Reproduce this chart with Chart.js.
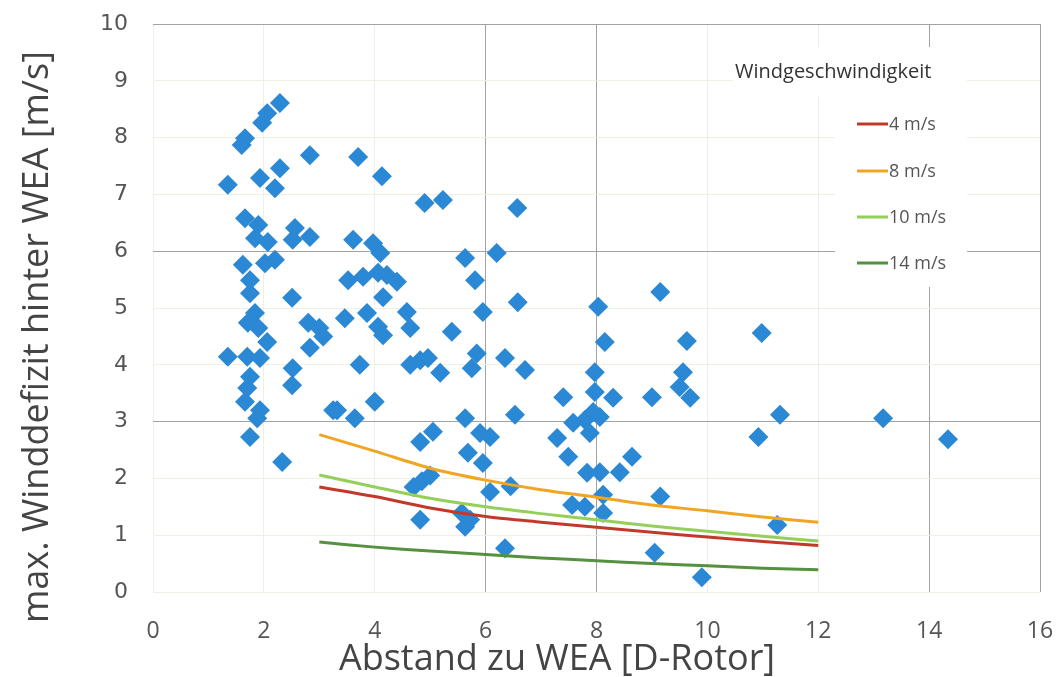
<!DOCTYPE html>
<html>
<head>
<meta charset="utf-8">
<script src="https://cdn.jsdelivr.net/npm/chart.js@4.4.1/dist/chart.umd.min.js"></script>
<style>
  body { margin: 0; background: #fff; }
  #wrap { width: 1057px; height: 677px; }
</style>
</head>
<body>
<div id="wrap"><canvas id="chart" width="1057" height="677"></canvas></div>
<script>
// Messpunkte: Abstand [D-Rotor] / max. Winddefizit [m/s]
const distX = [
  1.35, 1.35, 1.60, 1.66, 1.97, 2.06, 2.29, 2.83, 2.29, 1.93, 2.20, 1.66, 1.90, 1.84, 2.07, 2.56, 2.52, 2.83,
  1.62, 2.02, 2.20, 1.75, 1.75, 2.51, 1.84, 1.71, 1.90, 2.06, 2.80, 3.00, 3.07, 2.83, 1.70, 1.93, 2.52, 2.51,
  1.75, 1.70, 1.66, 1.93, 1.88, 1.75, 2.33, 3.25, 3.70, 4.13, 4.90, 5.23, 6.57, 3.61, 3.97, 4.10, 5.63, 6.20,
  3.52, 3.79, 4.06, 4.22, 4.40, 4.15, 5.81, 5.95, 6.58, 3.46, 3.86, 4.06, 4.15, 4.58, 4.64, 5.39, 3.73, 4.64,
  4.82, 4.96, 5.18, 5.84, 5.75, 6.35, 6.71, 4.00, 3.32, 3.64, 5.63, 6.53, 5.05, 4.82, 5.90, 6.08, 5.68, 5.95,
  4.70, 4.85, 5.00, 6.08, 6.45, 4.82, 5.57, 5.63, 5.72, 6.35, 7.40, 7.29, 7.49, 7.58, 7.79, 7.94, 8.06, 7.88,
  7.97, 7.97, 8.03, 8.15, 8.30, 7.83, 8.06, 8.42, 8.64, 7.56, 7.79, 8.12, 8.12, 9.15, 9.63, 10.98, 9.56, 9.00,
  9.50, 9.69, 9.15, 9.05, 9.90, 11.31, 10.92, 13.17, 14.34, 11.26
];
const deficitY = [
  7.17, 4.14, 7.87, 7.99, 8.26, 8.43, 8.61, 7.69, 7.46, 7.29, 7.11, 6.58, 6.46, 6.23, 6.16, 6.41, 6.20, 6.25,
  5.76, 5.79, 5.85, 5.49, 5.26, 5.18, 4.91, 4.74, 4.65, 4.40, 4.74, 4.65, 4.50, 4.30, 4.14, 4.12, 3.94, 3.64,
  3.79, 3.59, 3.35, 3.20, 3.06, 2.73, 2.29, 3.20, 7.66, 7.32, 6.85, 6.90, 6.76, 6.20, 6.14, 5.97, 5.88, 5.97,
  5.49, 5.55, 5.62, 5.58, 5.46, 5.19, 5.49, 4.93, 5.10, 4.82, 4.91, 4.67, 4.52, 4.93, 4.65, 4.58, 4.00, 4.00,
  4.08, 4.12, 3.86, 4.20, 3.94, 4.12, 3.91, 3.35, 3.20, 3.06, 3.06, 3.12, 2.82, 2.64, 2.80, 2.73, 2.45, 2.27,
  1.85, 1.95, 2.05, 1.76, 1.86, 1.27, 1.39, 1.15, 1.27, 0.77, 3.43, 2.71, 2.38, 2.98, 3.03, 3.17, 3.08, 2.80,
  3.52, 3.87, 5.02, 4.40, 3.42, 2.10, 2.11, 2.11, 2.38, 1.53, 1.50, 1.71, 1.39, 5.28, 4.42, 4.56, 3.87, 3.43,
  3.61, 3.42, 1.68, 0.69, 0.26, 3.12, 2.73, 3.06, 2.69, 1.18
];

// Kurven je Windgeschwindigkeit
const curveX = [3, 4, 5, 6, 7, 8, 9, 10, 11, 12];
const v4 = [1.85, 1.68, 1.48, 1.33, 1.23, 1.14, 1.05, 0.97, 0.89, 0.82];
const v8 = [2.77, 2.48, 2.18, 1.97, 1.80, 1.67, 1.53, 1.43, 1.32, 1.23];
const v10 = [2.06, 1.85, 1.65, 1.50, 1.38, 1.27, 1.16, 1.07, 0.98, 0.90];
const v14 = [0.88, 0.79, 0.72, 0.66, 0.60, 0.55, 0.50, 0.46, 0.42, 0.39];

const curveLabels = ['4 m/s', '8 m/s', '10 m/s', '14 m/s'];
const curveColors = ['#c0392b', '#f0a623', '#93cf5a', '#55913f'];

const xTicks = [0, 2, 4, 6, 8, 10, 12, 14, 16];
const yTicks = [0, 1, 2, 3, 4, 5, 6, 7, 8, 9, 10];
const darkX = [6, 8, 14, 16];
const darkY = [3, 6, 10];

const xTitle = 'Abstand zu WEA [D-Rotor]';
const yTitle = 'max. Winddefizit hinter WEA [m/s]';

const pts = (xs, ys) => xs.map((x, i) => ({ x: x, y: ys[i] }));

const curves = [v4, v8, v10, v14].map((vals, i) => ({
  label: curveLabels[i],
  data: pts(curveX, vals),
  showLine: true,
  borderColor: curveColors[i],
  backgroundColor: curveColors[i],
  borderWidth: 3,
  pointRadius: 0,
  tension: 0.3,
  order: 0
}));

// Legende im Diagramm, wie im Original
const legendInside = {
  id: 'legendInside',
  beforeDatasetsDraw(chart) {
    const ctx = chart.ctx;
    ctx.save();
    ctx.fillStyle = '#fff';
    ctx.fillRect(733, 47, 234, 50);
    ctx.fillRect(835, 97, 132, 190);
    ctx.fillStyle = '#333';
    ctx.font = '20px "Open Sans"';
    ctx.textBaseline = 'middle';
    ctx.fillText('Windgeschwindigkeit', 735, 72);
    const rows = [124, 171, 217, 263];
    curveLabels.forEach((lab, i) => {
      ctx.strokeStyle = curveColors[i];
      ctx.lineWidth = 3;
      ctx.beginPath();
      ctx.moveTo(857, rows[i]);
      ctx.lineTo(888, rows[i]);
      ctx.stroke();
      ctx.fillStyle = '#555';
      ctx.font = '18px "Open Sans"';
      ctx.fillText(lab, 889, rows[i] + 1);
    });
    ctx.restore();
  },
  // Achsentitel sitzen im Original nicht mittig
  afterDraw(chart) {
    const ctx = chart.ctx;
    ctx.save();
    ctx.fillStyle = '#444';
    ctx.textAlign = 'center';
    ctx.textBaseline = 'middle';
    ctx.font = '36px "Open Sans"';
    ctx.fillText(xTitle, 557, 660);
    ctx.translate(38, 337);
    ctx.rotate(-Math.PI / 2);
    ctx.fillText(yTitle, 0, 0);
    ctx.restore();
  }
};

new Chart(document.getElementById('chart'), {
  type: 'scatter',
  data: {
    datasets: [
      ...curves,
      {
        label: 'Messwerte',
        data: pts(distX, deficitY),
        pointStyle: 'rectRot',
        pointRadius: 10,
        pointHoverRadius: 10,
        borderWidth: 0,
        backgroundColor: '#2b88d4',
        order: 1
      }
    ]
  },
  options: {
    responsive: false,
    animation: false,
    layout: { padding: { top: 24, right: 17, left: 0, bottom: 0 } },
    scales: {
      x: {
        type: 'linear',
        min: 0,
        max: 16,
        afterFit: s => { s.height = 85; s.paddingLeft = 0; s.paddingRight = 0; },
        afterBuildTicks: s => { s.ticks = xTicks.map(v => ({ value: v })); },
        border: { display: false },
        grid: {
          drawTicks: false,
          color: c => darkX.includes(c.tick && c.tick.value) ? '#a3a3a3' : '#f0efe2',
          lineWidth: 1
        },
        ticks: {
          padding: 26,
          color: '#555',
          font: { family: '"Open Sans"', size: 23 }
        }
      },
      y: {
        min: 0,
        max: 10,
        afterFit: s => { s.width = 153; s.paddingTop = 0; s.paddingBottom = 0; },
        afterBuildTicks: s => { s.ticks = yTicks.map(v => ({ value: v })); },
        border: { display: false },
        grid: {
          drawTicks: false,
          color: c => darkY.includes(c.tick && c.tick.value) ? '#a3a3a3' : '#f0efe2',
          lineWidth: 1
        },
        ticks: {
          padding: 25,
          color: '#555',
          font: { family: '"DejaVu Sans"', size: 22 }
        }
      }
    },
    plugins: {
      legend: { display: false },
      tooltip: { enabled: false }
    }
  },
  plugins: [legendInside]
});
</script>
</body>
</html>
